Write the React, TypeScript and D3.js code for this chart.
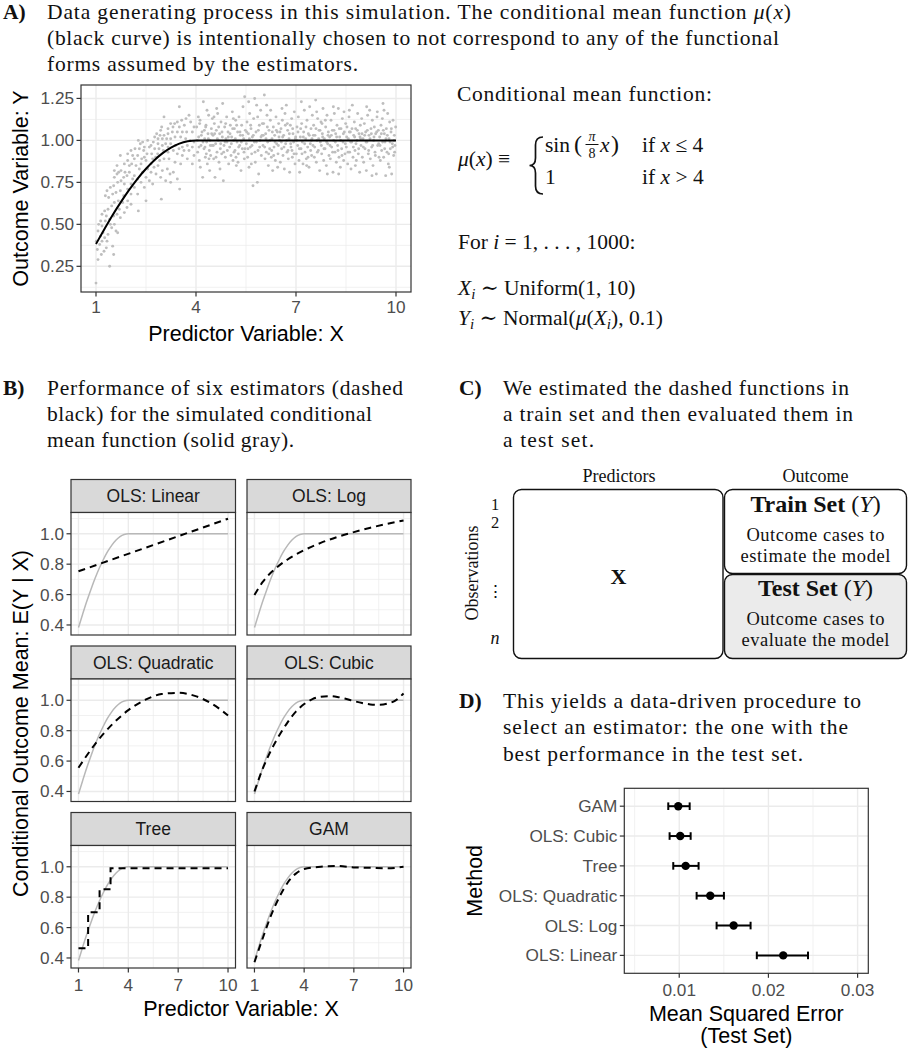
import React from "react";
import * as d3 from "d3";

const SANS = "'Liberation Sans', Arial, Helvetica, sans-serif";
const SERIF = "'Liberation Serif', 'Times New Roman', 'DejaVu Serif', serif";
const GRID = "#EBEBEB";
const FRAME = "#333333";
const TICK_TEXT = "#4D4D4D";
const POINT = "#BEBEBE";

// ---------- Panel A / B: conditional mean function ----------
const truthX = [1, 1.25, 1.5, 1.75, 2, 2.25, 2.5, 2.75, 3, 3.25, 3.5, 3.75, 4, 10];
const truthY = [0.383, 0.471, 0.556, 0.634, 0.707, 0.773, 0.831, 0.882, 0.924, 0.957, 0.981, 0.995, 1.0, 1.0];

// ---------- Panel A: simulated observations ----------
const scatterRising: [number, number][] = [
  [3.50,1.20],[3.04,1.14],[3.79,1.15],[3.70,1.13],[3.57,1.12],[3.44,1.11],[3.36,1.10],[3.24,1.10],[2.97,1.08],[2.94,1.06],
  [3.16,1.07],[3.31,1.08],[3.50,1.08],[3.65,1.09],[3.84,1.11],[3.94,1.08],[3.89,1.05],[3.72,1.05],[3.59,1.05],[3.44,1.05],
  [3.29,1.05],[3.16,1.04],[3.04,1.03],[2.92,1.03],[2.82,1.04],[2.76,1.02],[2.86,1.01],[2.99,1.01],[3.12,1.01],[3.24,1.01],
  [3.37,1.02],[3.54,1.02],[3.69,1.01],[3.82,1.00],[3.94,0.99],[3.74,0.97],[3.59,0.96],[3.49,0.95],[3.39,0.97],[3.24,0.98],
  [3.16,0.96],[3.09,0.98],[2.99,0.97],[2.86,0.98],[2.72,0.99],[2.65,0.97],[2.55,1.00],[2.40,0.99],[2.27,1.00],[2.33,0.98],
  [2.45,0.96],[2.60,0.96],[2.76,0.95],[2.89,0.95],[3.02,0.94],[3.16,0.93],[3.32,0.94],[3.44,0.92],[3.59,0.91],[3.74,0.89],
  [3.89,0.86],[3.94,0.91],[3.19,0.89],[3.04,0.89],[2.91,0.88],[2.79,0.90],[2.67,0.92],[2.53,0.92],[2.43,0.94],[2.30,0.95],
  [2.17,0.95],[2.05,0.94],[1.95,0.92],[2.10,0.91],[2.25,0.91],[2.37,0.89],[2.50,0.88],[2.65,0.86],[2.74,0.84],[2.86,0.85],
  [2.99,0.82],[3.14,0.83],[3.22,0.80],[3.32,0.81],[3.44,0.77],[3.51,0.71],[2.96,0.65],[2.70,0.74],[2.60,0.76],[2.50,0.78],
  [2.40,0.81],[2.30,0.83],[2.20,0.85],[2.07,0.86],[1.95,0.88],[1.85,0.86],[1.73,0.91],[1.63,0.85],[1.55,0.82],[1.63,0.80],
  [1.75,0.82],[1.87,0.81],[2.00,0.81],[2.15,0.79],[2.25,0.77],[2.35,0.75],[2.45,0.72],[2.50,0.64],[2.27,0.58],[2.05,0.68],
  [1.95,0.71],[1.85,0.74],[1.75,0.76],[1.65,0.75],[1.53,0.73],[1.43,0.72],[1.33,0.70],[1.28,0.67],[1.38,0.66],[1.50,0.68],
  [1.60,0.69],[1.73,0.70],[1.83,0.67],[1.95,0.64],[2.05,0.62],[1.80,0.63],[1.67,0.64],[1.55,0.63],[1.47,0.61],[1.36,0.59],
  [1.26,0.58],[1.18,0.56],[1.14,0.52],[1.08,0.50],[1.06,0.46],[1.18,0.49],[1.28,0.52],[1.41,0.53],[1.53,0.55],[1.63,0.56],
  [1.73,0.54],[1.85,0.57],[1.55,0.50],[1.47,0.48],[1.60,0.46],[1.65,0.45],[1.36,0.44],[1.26,0.42],[1.18,0.40],[1.11,0.38],
  [1.04,0.35],[1.06,0.29],[1.16,0.32],[1.24,0.34],[1.31,0.36],[1.33,0.40],[1.50,0.37],[1.53,0.32],[1.41,0.25],[1.00,0.15],
  [1.14,0.43],[1.01,0.40],[1.21,0.45],[1.43,0.50],[1.31,0.55],[1.70,0.59],[1.93,0.60],[2.05,0.74],[2.15,0.72],[2.25,0.68],
  [2.10,0.77],[2.55,0.83],[2.65,0.81],[2.80,0.80],[2.94,0.78],[3.09,0.76],[3.24,0.75],[3.37,0.87],[3.54,0.86],[3.64,0.94],
  [3.79,0.94],[3.89,0.96],[2.85,0.92],[2.70,0.89],[2.35,0.86],[2.45,0.90],[2.15,0.89],[2.00,0.85],[1.83,0.78],[1.93,0.79],
  [1.68,0.81],[1.55,0.78]
];
const scatterFlat: [number, number][] = [
  [4.02,1.08],[4.05,0.93],[4.08,1.02],[4.1,0.88],[4.12,1.12],[4.15,0.97],[4.18,1.05],[4.2,0.78],[4.22,1.23],[4.24,0.95],[4.26,1.01],[4.28,0.9],[4.3,1.09],[4.32,0.99],[4.34,0.86],[4.36,1.04],[4.38,1.15],[4.4,0.94],[4.42,1.0],[4.44,0.91],[4.46,1.07],[4.48,0.97],[4.49,1.13],[4.13,0.84],[4.33,1.18],[4.41,0.82],[4.07,1.14],[4.27,0.96],
  [4.51,1.03],[4.53,0.89],[4.55,1.1],[4.57,0.78],[4.59,0.98],[4.61,1.06],[4.63,0.93],[4.65,1.16],[4.67,1.0],[4.69,0.87],[4.71,1.04],[4.73,0.95],[4.75,1.11],[4.77,0.92],[4.79,1.02],[4.8,1.22],[4.82,0.76],[4.84,0.97],[4.86,1.08],[4.88,0.9],[4.9,1.01],[4.92,1.14],[4.94,0.94],[4.96,1.05],[4.98,0.86],[4.62,1.19],[4.72,0.83],[4.87,0.99],
  [5.01,0.96],[5.03,1.09],[5.05,0.91],[5.07,1.02],[5.09,1.17],[5.11,0.88],[5.13,1.0],[5.15,1.07],[5.17,0.94],[5.19,1.12],[5.21,0.85],[5.23,0.99],[5.25,1.05],[5.27,0.92],[5.29,1.14],[5.31,0.97],[5.33,1.03],[5.35,0.82],[5.37,1.09],[5.39,0.95],[5.41,1.2],[5.43,1.01],[5.45,0.89],[5.46,1.26],[5.48,1.06],[5.12,1.13],[5.26,0.87],[5.44,0.93],
  [5.51,0.98],[5.53,1.11],[5.55,0.9],[5.57,1.04],[5.59,0.84],[5.61,1.16],[5.63,0.96],[5.65,1.07],[5.67,0.92],[5.69,1.02],[5.71,0.73],[5.73,1.13],[5.75,0.99],[5.76,1.25],[5.78,0.87],[5.8,1.05],[5.82,1.21],[5.84,0.75],[5.86,0.94],[5.88,0.8],[5.9,1.09],[5.92,1.0],[5.94,1.18],[5.96,0.91],[5.98,1.03],[5.58,1.23],[5.66,0.86],[5.85,1.14],
  [6.01,0.97],[6.03,1.1],[6.05,1.27],[6.07,0.89],[6.09,1.04],[6.11,0.93],[6.13,1.15],[6.15,0.99],[6.17,0.85],[6.19,1.06],[6.21,0.95],[6.23,1.12],[6.24,1.18],[6.26,0.9],[6.28,1.01],[6.3,0.82],[6.32,1.08],[6.34,0.96],[6.36,1.03],[6.38,0.88],[6.4,1.14],[6.42,0.98],[6.44,1.05],[6.46,0.92],[6.48,1.1],[6.12,1.21],[6.27,0.94],[6.45,0.84],
  [6.51,1.0],[6.53,0.87],[6.55,1.07],[6.57,0.95],[6.59,1.12],[6.61,0.91],[6.63,1.03],[6.65,0.83],[6.67,1.16],[6.69,0.98],[6.71,1.21],[6.73,0.93],[6.75,1.06],[6.77,0.89],[6.79,1.01],[6.81,0.81],[6.83,1.09],[6.85,0.96],[6.87,1.13],[6.89,0.9],[6.91,1.04],[6.93,0.99],[6.95,1.17],[6.97,0.86],[6.99,1.02],[6.58,1.19],[6.74,1.1],[6.88,0.94],
  [7.01,0.92],[7.03,1.08],[7.05,0.97],[7.07,1.14],[7.09,0.88],[7.11,0.81],[7.13,1.02],[7.15,0.95],[7.17,1.1],[7.19,0.99],[7.21,0.86],[7.23,1.05],[7.25,1.18],[7.27,0.93],[7.29,1.01],[7.31,0.89],[7.33,1.12],[7.35,0.96],[7.37,1.04],[7.39,0.84],[7.41,1.2],[7.43,0.98],[7.45,1.07],[7.47,0.91],[7.49,1.15],[7.16,1.23],[7.32,0.85],[7.46,1.0],
  [7.51,0.97],[7.53,1.09],[7.55,0.9],[7.57,1.03],[7.59,1.24],[7.61,0.87],[7.63,1.0],[7.65,1.13],[7.67,0.94],[7.69,1.06],[7.71,0.82],[7.73,0.99],[7.75,1.11],[7.77,0.92],[7.79,1.04],[7.81,1.19],[7.83,0.88],[7.85,1.01],[7.87,0.95],[7.89,1.08],[7.91,0.85],[7.93,1.15],[7.95,0.98],[7.97,1.05],[7.99,0.91],[7.62,1.17],[7.78,1.1],[7.94,0.8],
  [8.01,1.02],[8.03,0.89],[8.05,1.12],[8.07,0.96],[8.09,1.06],[8.11,0.81],[8.13,1.0],[8.15,1.16],[8.17,0.93],[8.19,1.04],[8.21,0.87],[8.23,1.09],[8.25,0.97],[8.27,1.19],[8.29,0.9],[8.31,1.02],[8.33,0.84],[8.35,1.07],[8.37,0.95],[8.39,1.13],[8.41,0.99],[8.43,0.88],[8.45,1.05],[8.47,0.92],[8.49,1.1],[8.12,1.2],[8.28,0.8],[8.44,1.17],
  [8.51,0.96],[8.53,1.08],[8.55,0.86],[8.57,1.01],[8.59,1.14],[8.61,0.93],[8.63,1.05],[8.65,0.83],[8.67,0.99],[8.69,1.21],[8.71,0.9],[8.73,1.03],[8.75,1.11],[8.77,0.94],[8.79,1.07],[8.81,0.88],[8.83,1.0],[8.85,1.16],[8.87,0.92],[8.89,1.04],[8.91,0.81],[8.93,1.09],[8.95,0.97],[8.97,1.13],[8.99,0.9],[8.6,1.18],[8.78,0.85],[8.92,1.02],
  [9.01,1.01],[9.03,0.87],[9.05,1.1],[9.07,0.95],[9.09,1.05],[9.11,0.82],[9.13,0.99],[9.15,1.15],[9.17,0.92],[9.19,1.03],[9.21,1.18],[9.23,0.89],[9.25,1.07],[9.27,0.96],[9.29,1.12],[9.31,0.85],[9.33,1.0],[9.35,1.08],[9.37,0.93],[9.39,1.04],[9.41,0.8],[9.43,1.14],[9.45,0.97],[9.47,1.06],[9.49,0.9],[9.12,1.2],[9.28,0.79],[9.44,1.17],
  [9.51,1.02],[9.53,0.88],[9.55,1.09],[9.57,0.94],[9.59,1.13],[9.61,1.22],[9.63,0.9],[9.65,1.04],[9.67,0.99],[9.69,0.79],[9.71,1.07],[9.73,0.93],[9.75,1.16],[9.77,0.86],[9.79,1.01],[9.81,1.11],[9.83,0.95],[9.85,1.05],[9.87,0.8],[9.89,0.98],[9.91,1.12],[9.93,0.91],[9.95,1.03],[9.97,0.97],[9.99,1.08],[9.64,1.18],[9.8,0.84],[9.96,0.93],
  [4.04,1.0],[4.09,0.96],[4.16,1.03],[4.21,0.99],[4.25,1.06],[4.31,0.92],[4.37,1.01],[4.43,0.97],[4.47,1.04],[4.11,1.1],[4.29,1.08],[4.39,0.89],
  [4.52,0.97],[4.56,1.04],[4.6,0.9],[4.64,1.01],[4.68,1.08],[4.74,0.98],[4.78,1.05],[4.83,0.93],[4.89,1.1],[4.93,0.99],[4.97,1.02],[4.54,1.14],
  [5.02,1.04],[5.06,0.98],[5.1,1.07],[5.14,0.93],[5.18,1.01],[5.22,1.09],[5.28,0.96],[5.32,1.05],[5.36,0.99],[5.4,1.03],[5.47,0.95],[5.2,0.9],
  [5.52,1.05],[5.56,0.95],[5.6,1.01],[5.64,1.09],[5.68,0.97],[5.72,1.03],[5.77,0.93],[5.81,0.99],[5.87,1.06],[5.91,0.96],[5.95,1.02],[5.99,1.1],
  [6.02,1.03],[6.06,0.96],[6.1,1.01],[6.14,1.08],[6.18,0.92],[6.22,1.0],[6.29,1.05],[6.33,0.91],[6.37,0.99],[6.41,1.06],[6.47,0.97],[6.49,1.02],
  [6.52,1.05],[6.56,0.99],[6.6,1.02],[6.64,0.96],[6.68,1.09],[6.72,1.0],[6.76,0.94],[6.8,1.04],[6.84,0.98],[6.9,1.07],[6.94,0.92],[6.98,1.01],
  [7.02,1.0],[7.06,1.05],[7.1,0.95],[7.14,1.07],[7.18,0.92],[7.22,1.02],[7.26,0.98],[7.3,1.08],[7.36,0.9],[7.4,1.03],[7.44,0.94],[7.48,1.01],
  [7.52,1.03],[7.56,0.96],[7.6,1.07],[7.64,0.93],[7.68,1.01],[7.72,1.06],[7.76,0.97],[7.8,1.02],[7.84,0.95],[7.88,1.12],[7.92,0.99],[7.96,1.03],
  [8.02,0.97],[8.06,1.03],[8.1,0.93],[8.14,1.06],[8.18,0.99],[8.22,1.02],[8.26,0.94],[8.3,1.07],[8.34,1.0],[8.38,0.91],[8.42,1.04],[8.48,0.98],
  [8.52,1.02],[8.56,0.93],[8.6,1.05],[8.64,0.99],[8.68,1.07],[8.72,0.96],[8.76,1.02],[8.8,0.98],[8.84,1.06],[8.88,0.95],[8.94,1.01],[8.98,1.04],
  [9.02,0.96],[9.06,1.03],[9.1,0.99],[9.14,1.06],[9.18,0.94],[9.22,1.01],[9.26,1.04],[9.3,0.97],[9.34,1.02],[9.38,0.91],[9.42,1.05],[9.48,0.98],
  [9.52,0.97],[9.56,1.04],[9.6,0.99],[9.62,1.06],[9.66,0.95],[9.7,1.01],[9.74,1.03],[9.78,0.92],[9.82,0.99],[9.86,1.07],[9.9,0.96],[9.94,1.0]
];

// ---------- Axes ----------
const xTicks = [1, 4, 7, 10];
const xMinor = [2.5, 5.5, 8.5];
const yTicksA = [0.25, 0.5, 0.75, 1.0, 1.25];
const yMinorA = [0.125, 0.375, 0.625, 0.875, 1.125];
const yTicksB = [0.4, 0.6, 0.8, 1.0];
const yMinorB = [0.5, 0.7, 0.9, 1.1];

// ---------- Panel B: fitted estimator curves (read off each facet) ----------
const facetNames = ["OLS: Linear", "OLS: Log", "OLS: Quadratic", "OLS: Cubic", "Tree", "GAM"];
const fitLinearX = [1, 10];
const fitLinearY = [0.753, 1.099];
const fitLogX = [1, 1.5, 2, 2.5, 3, 4, 5, 6, 7, 8, 9, 10];
const fitLogY = [0.597, 0.683, 0.745, 0.792, 0.831, 0.892, 0.94, 0.979, 1.011, 1.04, 1.065, 1.088];
const fitQuadX = [1, 2, 3, 4, 5, 6, 7, 8, 9, 10];
const fitQuadY = [0.556, 0.712, 0.838, 0.935, 1.002, 1.041, 1.049, 1.029, 0.979, 0.9];
const fitCubicX = [1, 1.5, 2, 2.5, 3, 3.5, 4, 4.5, 5, 5.5, 6, 6.5, 7, 7.5, 8, 8.5, 9, 9.5, 10];
const fitCubicY = [0.4, 0.55, 0.67, 0.77, 0.855, 0.925, 0.975, 1.008, 1.023, 1.027, 1.022, 1.01, 0.995, 0.982, 0.973, 0.97, 0.977, 0.998, 1.045];
const fitTreeX = [1, 1.58, 2.27, 2.93, 10];
const fitTreeY = [0.464, 0.7, 0.852, 0.99, 0.99];
const fitGamX = [1, 1.5, 2, 2.5, 3, 3.5, 4, 5, 6, 7, 8, 9, 10];
const fitGamY = [0.372, 0.53, 0.68, 0.8, 0.895, 0.955, 0.985, 1.0, 1.005, 0.996, 0.993, 0.99, 1.0];
const fitsX = [fitLinearX, fitLogX, fitQuadX, fitCubicX, fitTreeX, fitGamX];
const fitsY = [fitLinearY, fitLogY, fitQuadY, fitCubicY, fitTreeY, fitGamY];

// ---------- Panel D: test-set MSE ----------
const methods = ["GAM", "OLS: Cubic", "Tree", "OLS: Quadratic", "OLS: Log", "OLS: Linear"];
const mseMean = [0.00989, 0.01011, 0.01072, 0.01348, 0.0161, 0.02166];
const mseLow = [0.00877, 0.00892, 0.00933, 0.01195, 0.01419, 0.0187];
const mseHigh = [0.01117, 0.01128, 0.01217, 0.01501, 0.018, 0.02444];
const xTicksD = [0.01, 0.02, 0.03];
const xMinorD = [0.005, 0.015, 0.025];

type P = [number, number];
const zip = (xs: number[], ys: number[]): P[] => xs.map((v, i) => [v, ys[i]] as P);

function Grid({ x, y, l, r, t, b, xMaj, xMin, yMaj, yMin }: any) {
  return (
    <g>
      {yMin.map((v: number) => (
        <line key={"ym" + v} x1={l} x2={r} y1={y(v)} y2={y(v)} stroke={GRID} strokeWidth={0.7} />
      ))}
      {xMin.map((v: number) => (
        <line key={"xm" + v} x1={x(v)} x2={x(v)} y1={t} y2={b} stroke={GRID} strokeWidth={0.7} />
      ))}
      {yMaj.map((v: number) => (
        <line key={"yM" + v} x1={l} x2={r} y1={y(v)} y2={y(v)} stroke={GRID} strokeWidth={1.4} />
      ))}
      {xMaj.map((v: number) => (
        <line key={"xM" + v} x1={x(v)} x2={x(v)} y1={t} y2={b} stroke={GRID} strokeWidth={1.4} />
      ))}
    </g>
  );
}

function SerifLine({ x, y, w, children, size = 21.5 }: any) {
  return (
    <text x={x} y={y} fontFamily={SERIF} fontSize={size} fill="#111" textLength={w} lengthAdjust="spacing">
      {children}
    </text>
  );
}

function PanelA() {
  const l = 81, r = 411, t = 85, b = 292;
  const x = d3.scaleLinear().domain([0.55, 10.45]).range([l, r]);
  const y = d3.scaleLinear().domain([0.097, 1.33]).range([b, t]);
  const line = d3.line<P>().x((d) => x(d[0])).y((d) => y(d[1])).curve(d3.curveMonotoneX);
  const pts = [...scatterRising, ...scatterFlat];
  const fmt = d3.format(".2f");
  return (
    <g>
      <rect x={l} y={t} width={r - l} height={b - t} fill="white" />
      <Grid x={x} y={y} l={l} r={r} t={t} b={b} xMaj={xTicks} xMin={xMinor} yMaj={yTicksA} yMin={yMinorA} />
      {pts.map((p, i) => (
        <circle key={i} cx={x(p[0])} cy={y(p[1])} r={1.45} fill={POINT} />
      ))}
      <path d={line(zip(truthX, truthY)) || ""} fill="none" stroke="#000" strokeWidth={2} />
      <rect x={l} y={t} width={r - l} height={b - t} fill="none" stroke={FRAME} strokeWidth={1.2} />
      {yTicksA.map((v) => (
        <g key={v}>
          <line x1={l - 4.5} x2={l} y1={y(v)} y2={y(v)} stroke={FRAME} strokeWidth={1.2} />
          <text x={l - 7} y={y(v) + 6} textAnchor="end" fontFamily={SANS} fontSize={17.2} fill={TICK_TEXT}>
            {fmt(v)}
          </text>
        </g>
      ))}
      {xTicks.map((v) => (
        <g key={v}>
          <line x1={x(v)} x2={x(v)} y1={b} y2={b + 4.5} stroke={FRAME} strokeWidth={1.2} />
          <text x={x(v)} y={313} textAnchor="middle" fontFamily={SANS} fontSize={17.2} fill={TICK_TEXT}>
            {v}
          </text>
        </g>
      ))}
      <text x={(l + r) / 2} y={341} textAnchor="middle" fontFamily={SANS} fontSize={21.5} fill="#000">
        Predictor Variable: X
      </text>
      <text transform={`translate(28,${(t + b) / 2}) rotate(-90)`} textAnchor="middle" fontFamily={SANS} fontSize={21.5} fill="#000">
        Outcome Variable: Y
      </text>
    </g>
  );
}

function Facet({ i }: { i: number }) {
  const col = i % 2;
  const row = Math.floor(i / 2);
  const l = col === 0 ? 71 : 247;
  const r = col === 0 ? 235.5 : 411;
  const st = 479.5 + row * 166.5;
  const t = st + 33;
  const b = t + 122.5;
  const x = d3.scaleLinear().domain([0.55, 10.45]).range([l, r]);
  const y = d3.scaleLinear().domain([0.334, 1.14]).range([b, t]);
  const smooth = d3.line<P>().x((d) => x(d[0])).y((d) => y(d[1])).curve(d3.curveMonotoneX);
  const step = d3.line<P>().x((d) => x(d[0])).y((d) => y(d[1])).curve(d3.curveStepAfter);
  const fit = zip(fitsX[i], fitsY[i]);
  const fitPath = facetNames[i] === "Tree" ? step(fit) : smooth(fit);
  const fmt = d3.format(".1f");
  return (
    <g>
      <rect x={l} y={st} width={r - l} height={33} fill="#D9D9D9" stroke={FRAME} strokeWidth={1.2} />
      <text x={(l + r) / 2} y={st + 22.5} textAnchor="middle" fontFamily={SANS} fontSize={17.5} fill="#1A1A1A">
        {facetNames[i]}
      </text>
      <rect x={l} y={t} width={r - l} height={b - t} fill="white" />
      <Grid x={x} y={y} l={l} r={r} t={t} b={b} xMaj={xTicks} xMin={xMinor} yMaj={yTicksB} yMin={yMinorB} />
      <path d={smooth(zip(truthX, truthY)) || ""} fill="none" stroke="#B8B8B8" strokeWidth={1.5} />
      <path d={fitPath || ""} fill="none" stroke="#000" strokeWidth={2} strokeDasharray="7,5" />
      <rect x={l} y={t} width={r - l} height={b - t} fill="none" stroke={FRAME} strokeWidth={1.2} />
      {col === 0 &&
        yTicksB.map((v) => (
          <g key={v}>
            <line x1={l - 4.5} x2={l} y1={y(v)} y2={y(v)} stroke={FRAME} strokeWidth={1.2} />
            <text x={l - 7} y={y(v) + 6} textAnchor="end" fontFamily={SANS} fontSize={17.2} fill={TICK_TEXT}>
              {fmt(v)}
            </text>
          </g>
        ))}
      {row === 2 &&
        xTicks.map((v) => (
          <g key={v}>
            <line x1={x(v)} x2={x(v)} y1={b} y2={b + 4.5} stroke={FRAME} strokeWidth={1.2} />
            <text x={x(v)} y={991} textAnchor="middle" fontFamily={SANS} fontSize={17.2} fill={TICK_TEXT}>
              {v}
            </text>
          </g>
        ))}
    </g>
  );
}

function PanelB() {
  return (
    <g>
      {facetNames.map((_, i) => (
        <Facet key={i} i={i} />
      ))}
      <text x={241} y={1016} textAnchor="middle" fontFamily={SANS} fontSize={21.5} fill="#000">
        Predictor Variable: X
      </text>
      <text transform="translate(28,723.5) rotate(-90)" textAnchor="middle" fontFamily={SANS} fontSize={21.5} fill="#000">
        Conditional Outcome Mean: E(Y | X)
      </text>
    </g>
  );
}

function PanelD() {
  const l = 624.3, r = 868.3, t = 788.3, b = 973.3;
  const x = d3.scaleLinear().domain([0.00384, 0.0312]).range([l, r]);
  const y = d3.scalePoint<string>().domain(methods).range([t, b]).padding(0.6);
  const fmt = d3.format(".2f");
  return (
    <g>
      <rect x={l} y={t} width={r - l} height={b - t} fill="white" />
      {xMinorD.map((v) => (
        <line key={"m" + v} x1={x(v)} x2={x(v)} y1={t} y2={b} stroke={GRID} strokeWidth={0.7} />
      ))}
      {xTicksD.map((v) => (
        <line key={"M" + v} x1={x(v)} x2={x(v)} y1={t} y2={b} stroke={GRID} strokeWidth={1.4} />
      ))}
      {methods.map((m) => (
        <line key={"h" + m} x1={l} x2={r} y1={y(m)} y2={y(m)} stroke={GRID} strokeWidth={1.4} />
      ))}
      {methods.map((m, i) => {
        const cy = y(m) as number;
        return (
          <g key={m}>
            <line x1={x(mseLow[i])} x2={x(mseHigh[i])} y1={cy} y2={cy} stroke="#000" strokeWidth={2} />
            <line x1={x(mseLow[i])} x2={x(mseLow[i])} y1={cy - 3.8} y2={cy + 3.8} stroke="#000" strokeWidth={2} />
            <line x1={x(mseHigh[i])} x2={x(mseHigh[i])} y1={cy - 3.8} y2={cy + 3.8} stroke="#000" strokeWidth={2} />
            <circle cx={x(mseMean[i])} cy={cy} r={4.2} fill="#000" />
          </g>
        );
      })}
      <rect x={l} y={t} width={r - l} height={b - t} fill="none" stroke={FRAME} strokeWidth={1.2} />
      {methods.map((m) => (
        <g key={"t" + m}>
          <line x1={l - 4.5} x2={l} y1={y(m)} y2={y(m)} stroke={FRAME} strokeWidth={1.2} />
          <text x={l - 7} y={(y(m) as number) + 6} textAnchor="end" fontFamily={SANS} fontSize={17.2} fill={TICK_TEXT}>
            {m}
          </text>
        </g>
      ))}
      {xTicksD.map((v) => (
        <g key={"x" + v}>
          <line x1={x(v)} x2={x(v)} y1={b} y2={b + 4.5} stroke={FRAME} strokeWidth={1.2} />
          <text x={x(v)} y={996} textAnchor="middle" fontFamily={SANS} fontSize={17.2} fill={TICK_TEXT}>
            {fmt(v)}
          </text>
        </g>
      ))}
      <text x={(l + r) / 2} y={1021} textAnchor="middle" fontFamily={SANS} fontSize={21.5} fill="#000">
        Mean Squared Error
      </text>
      <text x={(l + r) / 2} y={1043} textAnchor="middle" fontFamily={SANS} fontSize={21.5} fill="#000">
        (Test Set)
      </text>
      <text transform={`translate(482,${(t + b) / 2}) rotate(-90)`} textAnchor="middle" fontFamily={SANS} fontSize={21.5} fill="#000">
        Method
      </text>
    </g>
  );
}

function PanelC() {
  const rr = 8;
  return (
    <g fontFamily={SERIF} fill="#111">
      <text x={619} y={482} textAnchor="middle" fontSize={18}>Predictors</text>
      <text x={815.5} y={482} textAnchor="middle" fontSize={18}>Outcome</text>
      <rect x={513.5} y={489.5} width={209.5} height={169} rx={rr} ry={rr} fill="white" stroke="#111" strokeWidth={1.4} />
      <rect x={724.5} y={489.5} width={182} height={84} rx={rr} ry={rr} fill="white" stroke="#111" strokeWidth={1.4} />
      <rect x={724.5} y={574.5} width={182} height={84} rx={rr} ry={rr} fill="#EBEBEB" stroke="#111" strokeWidth={1.4} />
      <text x={618.5} y={584} textAnchor="middle" fontSize={22} fontWeight="bold">X</text>
      <text x={815.5} y={512} textAnchor="middle" fontSize={24}>
        <tspan fontWeight="bold">Train Set </tspan>(<tspan fontStyle="italic">Y</tspan>)
      </text>
      <text x={815.5} y={541} textAnchor="middle" fontSize={18.5} textLength={138} lengthAdjust="spacing">Outcome cases to</text>
      <text x={815.5} y={561.5} textAnchor="middle" fontSize={18.5} textLength={150} lengthAdjust="spacing">estimate the model</text>
      <text x={815.5} y={596} textAnchor="middle" fontSize={24}>
        <tspan fontWeight="bold">Test Set </tspan>(<tspan fontStyle="italic">Y</tspan>)
      </text>
      <text x={815.5} y={625} textAnchor="middle" fontSize={18.5} textLength={138} lengthAdjust="spacing">Outcome cases to</text>
      <text x={815.5} y={645.5} textAnchor="middle" fontSize={18.5} textLength={148} lengthAdjust="spacing">evaluate the model</text>
      <text x={495} y={510} textAnchor="middle" fontSize={16.5}>1</text>
      <text x={495} y={527.5} textAnchor="middle" fontSize={16.5}>2</text>
      <text x={495} y={597} textAnchor="middle" fontSize={17} fontFamily="'DejaVu Serif', serif">⋮</text>
      <text x={495} y={644} textAnchor="middle" fontSize={18} fontStyle="italic">n</text>
      <text transform="translate(478,573) rotate(-90)" textAnchor="middle" fontSize={18}>Observations</text>
    </g>
  );
}

function Titles() {
  return (
    <g>
      {/* A */}
      <text x={3} y={18.5} fontFamily={SERIF} fontSize={21.5} fontWeight="bold" fill="#111">A)</text>
      <SerifLine x={47} y={18.5} w={744}>
        Data generating process in this simulation.  The conditional mean function <tspan fontStyle="italic">μ</tspan>(<tspan fontStyle="italic">x</tspan>)
      </SerifLine>
      <SerifLine x={47} y={44.5} w={732}>(black curve) is intentionally chosen to not correspond to any of the functional</SerifLine>
      <SerifLine x={47} y={70.5} w={311}>forms assumed by the estimators.</SerifLine>
      {/* B */}
      <text x={3} y={395} fontFamily={SERIF} fontSize={21.5} fontWeight="bold" fill="#111">B)</text>
      <SerifLine x={47} y={395} w={356}>Performance of six estimators (dashed</SerifLine>
      <SerifLine x={47} y={421} w={325}>black) for the simulated conditional</SerifLine>
      <SerifLine x={47} y={447} w={247}>mean function (solid gray).</SerifLine>
      {/* C */}
      <text x={459} y={395} fontFamily={SERIF} fontSize={21.5} fontWeight="bold" fill="#111">C)</text>
      <SerifLine x={503} y={395} w={346}>We estimated the dashed functions in</SerifLine>
      <SerifLine x={503} y={421} w={350}>a train set and then evaluated them in</SerifLine>
      <SerifLine x={503} y={447} w={91}>a test set.</SerifLine>
      {/* D */}
      <text x={459} y={707.5} fontFamily={SERIF} fontSize={21.5} fontWeight="bold" fill="#111">D)</text>
      <SerifLine x={503} y={707.5} w={358}>This yields a data-driven procedure to</SerifLine>
      <SerifLine x={503} y={734} w={345}>select an estimator: the one with the</SerifLine>
      <SerifLine x={503} y={760.5} w={300}>best performance in the test set.</SerifLine>
    </g>
  );
}

function MathA() {
  const F = SERIF;
  return (
    <g fontFamily={F} fill="#111" fontSize={21.5}>
      <text x={457} y={101} textLength={255} lengthAdjust="spacing">Conditional mean function:</text>
      <text x={458} y={166}>
        <tspan fontStyle="italic">μ</tspan>(<tspan fontStyle="italic">x</tspan>) ≡
      </text>
      <path d="M 543 137 Q 535.5 137 535.5 145 L 535.5 158 Q 535.5 165.5 529.5 165.5 Q 535.5 165.5 535.5 173 L 535.5 186 Q 535.5 194 543 194"
        fill="none" stroke="#111" strokeWidth={1.7} />
      <text x={545} y={152}>sin</text>
      <text x={574} y={152} fontSize={24}>(</text>
      <text x={592} y={141} fontSize={14} textAnchor="middle" fontStyle="italic">π</text>
      <line x1={585.5} x2={598.5} y1={144.5} y2={144.5} stroke="#111" strokeWidth={1} />
      <text x={592} y={158} fontSize={14} textAnchor="middle">8</text>
      <text x={600} y={152} fontStyle="italic">x</text>
      <text x={611} y={152} fontSize={24}>)</text>
      <text x={642} y={152}>if <tspan fontStyle="italic">x</tspan> ≤ 4</text>
      <text x={545} y={184}>1</text>
      <text x={642} y={184}>if <tspan fontStyle="italic">x</tspan> &gt; 4</text>
      <text x={458} y={248.5}>
        For <tspan fontStyle="italic">i</tspan> = 1, . . . , 1000:
      </text>
      <text x={458} y={295}>
        <tspan fontStyle="italic">X</tspan>
        <tspan fontStyle="italic" fontSize={15} dy={4}>i</tspan>
        <tspan dy={-4}> ∼ Uniform(1, 10)</tspan>
      </text>
      <text x={458} y={325}>
        <tspan fontStyle="italic">Y</tspan>
        <tspan fontStyle="italic" fontSize={15} dy={4}>i</tspan>
        <tspan dy={-4}> ∼ Normal(</tspan>
        <tspan fontStyle="italic">μ</tspan>(<tspan fontStyle="italic">X</tspan>
        <tspan fontStyle="italic" fontSize={15} dy={4}>i</tspan>
        <tspan dy={-4}>), 0.1)</tspan>
      </text>
    </g>
  );
}

export default function App() {
  return (
    <svg
      width={908}
      height={1050}
      viewBox="0 0 908 1050"
      style={{ position: "absolute", left: 0, top: 0, background: "white" }}
    >
      <rect x={0} y={0} width={908} height={1050} fill="white" />
      <Titles />
      <PanelA />
      <MathA />
      <PanelB />
      <PanelC />
      <PanelD />
    </svg>
  );
}
